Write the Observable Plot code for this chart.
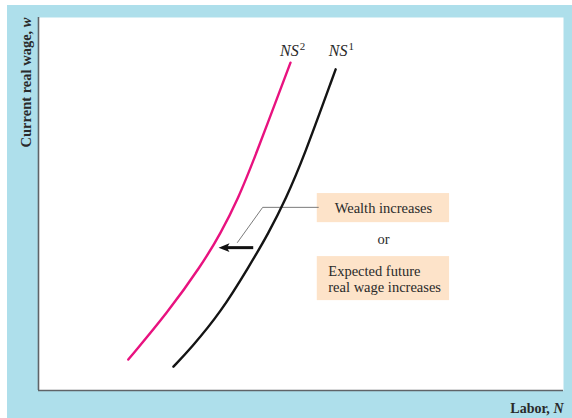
<!DOCTYPE html>
<html>
<head>
<meta charset="utf-8">
<script src="https://cdn.jsdelivr.net/npm/d3@7"></script>
<script src="https://cdn.jsdelivr.net/npm/@observablehq/plot@0.6"></script>
<style>
  html, body { margin: 0; padding: 0; background: #fff; }
  #chart svg { display: block; margin: 5px 0 0 7px; }
</style>
</head>
<body>
<div id="chart"></div>
<script>
// Labor supply curves (x = labor N, y = current real wage w; abstract units 0-100)
const ns2X = [17.1, 24.6, 31.0, 34.7, 38.1, 41.0, 48.0];
const ns2Y = [8.3, 20.9, 33.5, 42.1, 51.7, 61.7, 87.9];
const ns1X = [25.7, 29.0, 34.7, 40.2, 43.8, 47.2, 50.3, 56.6];
const ns1Y = [6.4, 11.3, 20.9, 33.5, 42.1, 51.7, 61.7, 86.1];

const curveNames = ["NS²", "NS¹"];
const curveLabelX = [48.4, 57.7];
const curveLabelY = [91.0, 91.0];

// annotation boxes
const boxText = ["Wealth increases", "Expected future\nreal wage increases"];
const boxX1 = [53.1, 53.1];
const boxX2 = [78.3, 78.3];
const boxY1 = [45.0, 24.1];
const boxY2 = [52.8, 35.9];
const orText = "or";

// leader line and shift arrow
const leaderX = [53.3, 42.7, 37.9];
const leaderY = [49.1, 49.1, 39.7];
const arrowFrom = [40.9, 38.3];
const arrowTo = [34.3, 38.3];

const xLabel = "Labor, N";
const yLabel = "Current real wage, w";

const ns2 = ns2X.map((x, i) => ({x, y: ns2Y[i]}));
const ns1 = ns1X.map((x, i) => ({x, y: ns1Y[i]}));
const labels = curveNames.map((name, i) => ({name, x: curveLabelX[i], y: curveLabelY[i]}));
const boxes = boxText.map((t, i) => ({t, x1: boxX1[i], x2: boxX2[i], y1: boxY1[i], y2: boxY2[i]}));
const leader = leaderX.map((x, i) => ({x, y: leaderY[i]}));

const serif = "'Liberation Serif', 'DejaVu Serif', serif";
const ink = "#2a2a2a";

// filled arrowhead pointing left, tip at the origin
const headSymbol = {
  draw(ctx, size) {
    const k = Math.sqrt(size) / 10;
    ctx.moveTo(0, 0);
    ctx.lineTo(11 * k, -4.5 * k);
    ctx.lineTo(8.5 * k, 0);
    ctx.lineTo(11 * k, 4.5 * k);
    ctx.closePath();
  }
};

const svg = Plot.plot({
  width: 565,
  height: 413,
  marginLeft: 31,
  marginRight: 9,
  marginTop: 12,
  marginBottom: 28,
  x: {domain: [0, 100], axis: null},
  y: {domain: [0, 100], axis: null},
  style: {background: "#aedfeb", fontFamily: serif, color: ink},
  marks: [
    Plot.frame({fill: "white", stroke: "none"}),
    Plot.ruleX([0], {stroke: "#5f6468", strokeWidth: 1.6}),
    Plot.ruleY([0], {stroke: "#5f6468", strokeWidth: 1.6}),
    Plot.rect(boxes, {x1: "x1", x2: "x2", y1: "y1", y2: "y2", fill: "#fde3c9"}),
    Plot.text(boxes.slice(0, 1), {x: d => (d.x1 + d.x2) / 2, y: d => (d.y1 + d.y2) / 2, text: "t", fontSize: 14.5, fill: ink}),
    Plot.text(boxes.slice(1), {x: "x1", y: d => (d.y1 + d.y2) / 2, dx: 11, text: "t", textAnchor: "start", fontSize: 14.5, lineHeight: 1.1, fill: ink}),
    Plot.text([orText], {x: (boxX1[0] + boxX2[0]) / 2, y: (boxY1[0] + boxY2[1]) / 2, text: d => d, fontSize: 14.5, fill: ink}),
    Plot.line(leader, {x: "x", y: "y", stroke: "#6b6b6b", strokeWidth: 0.9}),
    Plot.line(ns2, {x: "x", y: "y", curve: "basis", stroke: "#e8127f", strokeWidth: 2.4}),
    Plot.line(ns1, {x: "x", y: "y", curve: "basis", stroke: "#141414", strokeWidth: 2.4}),
    Plot.link([0], {x1: arrowFrom[0], y1: arrowFrom[1], x2: arrowTo[0] + 1.2, y2: arrowTo[1], stroke: "#111", strokeWidth: 3}),
    Plot.dot([0], {x: arrowTo[0], y: arrowTo[1], symbol: headSymbol, r: 5.6, fill: "#111", stroke: "none"}),
    Plot.text(labels, {x: "x", y: "y", text: "name", fontSize: 16, fill: ink, className: "nslab"}),
    Plot.text([xLabel], {frameAnchor: "bottom-right", dy: 22, text: d => d, textAnchor: "end", fontSize: 14, fontWeight: "bold", fill: ink, className: "xlab"}),
    Plot.text([yLabel], {frameAnchor: "top-left", dx: -18, rotate: -90, text: d => d, textAnchor: "end", fontSize: 14.5, fontWeight: "bold", fill: ink, className: "ylab"})
  ]
});

const NS = "http://www.w3.org/2000/svg";
const supMap = {"¹": "1", "²": "2"};
function rich(selector, split) {
  svg.querySelectorAll(selector + " text").forEach(t => {
    const s = t.textContent;
    t.textContent = "";
    split(s).forEach(p => {
      const ts = document.createElementNS(NS, "tspan");
      ts.textContent = p.t;
      if (p.i) ts.setAttribute("font-style", "italic");
      if (p.sup) { ts.setAttribute("font-size", "11"); ts.setAttribute("dy", "-6"); ts.setAttribute("dx", "1"); }
      t.appendChild(ts);
    });
  });
}
rich(".nslab", s => [{t: s.slice(0, 2), i: true}, {t: s.slice(2).replace(/[¹²]/g, c => supMap[c]), sup: true}]);
rich(".xlab", s => [{t: s.slice(0, -1)}, {t: s.slice(-1), i: true}]);
rich(".ylab", s => [{t: s.slice(0, -1)}, {t: s.slice(-1), i: true}]);

document.getElementById("chart").appendChild(svg);
</script>
</body>
</html>
